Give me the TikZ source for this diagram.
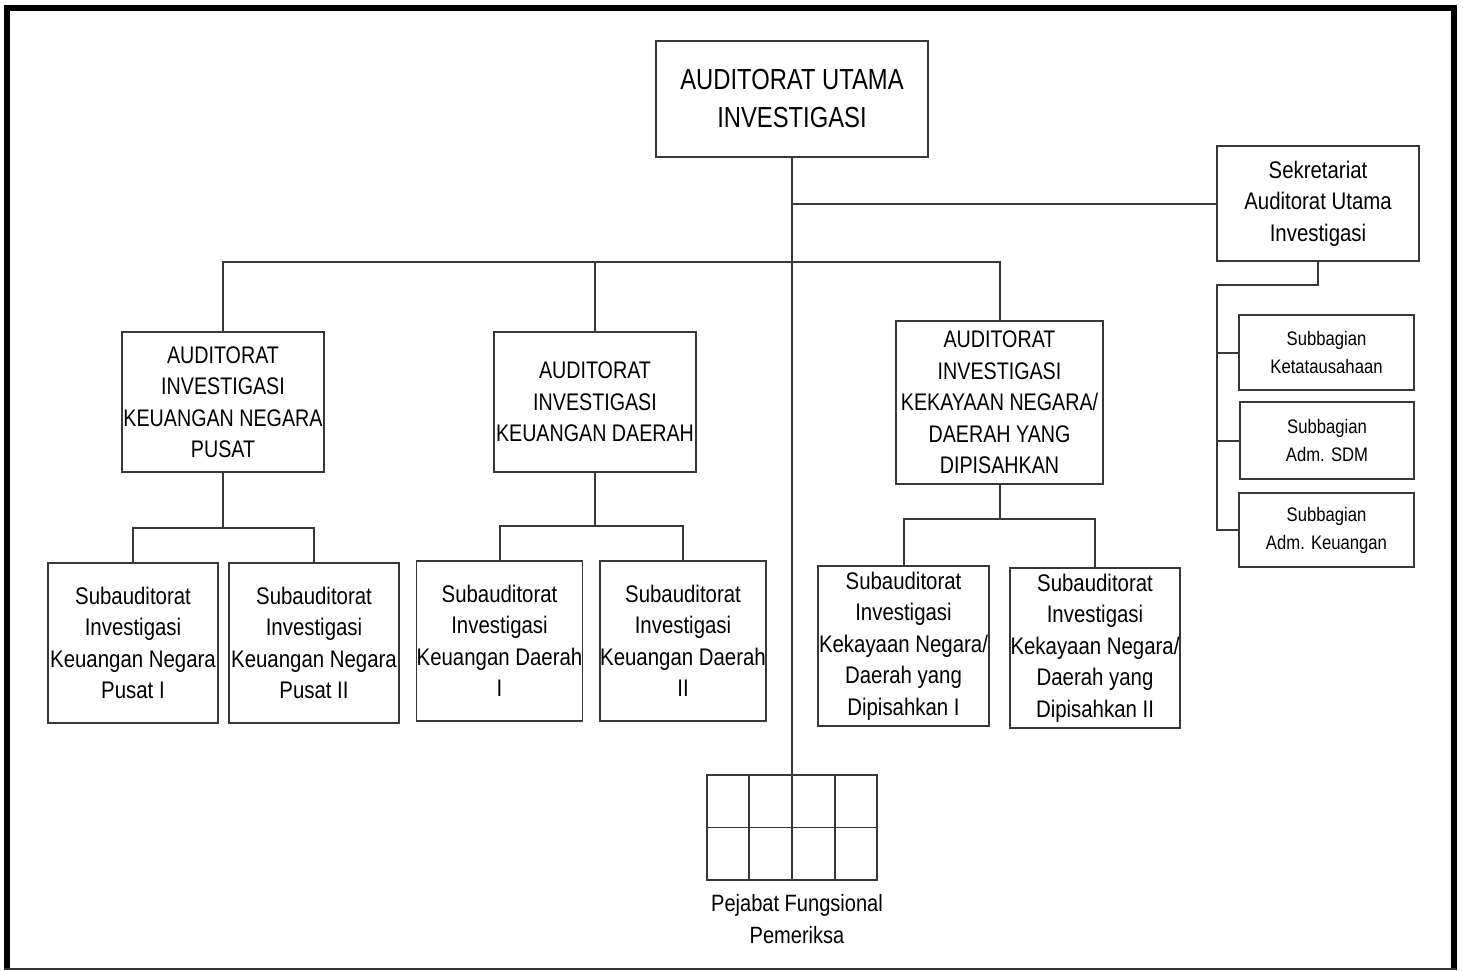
\documentclass[tikz,border=0pt]{standalone}
\usepackage{fontspec}
\setmainfont[FakeStretch=0.85]{Liberation Sans}
\newfontfamily\capsfont[FakeStretch=0.82]{Liberation Sans}
\usetikzlibrary{calc}
\tikzset{
  box/.style={draw=black!78, line width=0.75pt, align=center, inner sep=0pt,
    font=\fontsize{12}{15.75}\selectfont},
  capbox/.style={box, font=\capsfont\fontsize{12}{15.75}\selectfont},
  bigbox/.style={box, font=\capsfont\fontsize{14.5}{19}\selectfont},
  smallbox/.style={box, font=\fontsize{9.8}{14}\selectfont},
  conn/.style={draw=black!78, line width=1pt},
  frameline/.style={draw=black, line width=2.6pt},
}
\begin{document}
\begin{tikzpicture}[x=0.5pt,y=-0.5pt]
\useasboundingbox (0,0) rectangle (1463,970);
% frame
\draw[frameline] (7,970) -- (7,8) -- (1454,8) -- (1454,970);
\draw[draw=black!80, line width=1pt] (4,968.5) -- (1456,968.5);

% boxes
\node[bigbox, minimum width=136pt, minimum height=58pt] (top) at (792,99) {AUDITORAT UTAMA\\INVESTIGASI};
\node[box, minimum width=101pt, minimum height=57.5pt] (sek) at (1318,203.5) {Sekretariat\\Auditorat Utama\\Investigasi};

\node[capbox, minimum width=101pt, minimum height=70pt] (A1) at (223,402) {AUDITORAT\\INVESTIGASI\\KEUANGAN NEGARA\\PUSAT};
\node[capbox, minimum width=101pt, minimum height=70pt] (A2) at (595,402) {AUDITORAT\\INVESTIGASI\\KEUANGAN DAERAH};
\node[capbox, minimum width=103.5pt, minimum height=81.5pt] (A3) at (999.5,402.5) {AUDITORAT\\INVESTIGASI\\KEKAYAAN NEGARA/\\DAERAH YANG\\DIPISAHKAN};

\node[box, minimum width=85pt, minimum height=80pt] (S1) at (133,643) {Subauditorat\\Investigasi\\Keuangan Negara\\Pusat I};
\node[box, minimum width=85pt, minimum height=80pt] (S2) at (314,643) {Subauditorat\\Investigasi\\Keuangan Negara\\Pusat II};
\node[box, minimum width=82.5pt, minimum height=80pt] (S3) at (499.5,641) {Subauditorat\\Investigasi\\Keuangan Daerah\\I};
\node[box, minimum width=82pt, minimum height=80pt] (S4) at (683,641) {Subauditorat\\Investigasi\\Keuangan Daerah\\II};
\node[box, minimum width=85.5pt, minimum height=80pt] (S5) at (903.5,646) {Subauditorat\\Investigasi\\Kekayaan Negara/\\Daerah yang\\Dipisahkan I};
\node[box, minimum width=85pt, minimum height=80pt] (S6) at (1095,648) {Subauditorat\\Investigasi\\Kekayaan Negara/\\Daerah yang\\Dipisahkan II};

\node[smallbox, minimum width=87.5pt, minimum height=37.5pt] (B1) at (1326.5,352.5) {Subbagian\\Ketatausahaan};
\node[smallbox, minimum width=87pt, minimum height=38.5pt] (B2) at (1327,440.5) {Subbagian\\Adm. SDM};
\node[smallbox, minimum width=87.5pt, minimum height=37pt] (B3) at (1326.5,530) {Subbagian\\Adm. Keuangan};

% pejabat fungsional grid
\node[box, minimum width=85pt, minimum height=52.5pt] (pf) at (792,827.5) {};
\draw[conn, line width=0.9pt] (pf.west) -- (pf.east);
\foreach \f in {0.25,0.5,0.75}
  \draw[conn, line width=0.9pt] ($(pf.north west)!\f!(pf.north east)$) -- ($(pf.south west)!\f!(pf.south east)$);
\node[font=\fontsize{11.8}{15.75}\selectfont, align=center, inner sep=0pt] (pflabel) at (797,919) {Pejabat Fungsional\\Pemeriksa};

% connectors
\coordinate (bus) at (0,262);
\coordinate (j1) at (223,528);
\coordinate (j2) at (595,526);
\coordinate (j3) at (999.5,519);
\coordinate (k) at (1217,285);

\draw[conn] (top.south) -- (pf.north);
\draw[conn] (top.south |- sek.west) -- (sek.west);
\draw[conn] (A1.north) |- (A3.north |- bus) -- (A3.north);
\draw[conn] (A2.north) -- (A2.north |- bus);

\draw[conn] (A1.south) -- (j1);
\draw[conn] (S1.north) |- (j1) -| (S2.north);
\draw[conn] (A2.south) -- (j2);
\draw[conn] (S3.north) |- (j2) -| (S4.north);
\draw[conn] (A3.south) -- (j3);
\draw[conn] (S5.north) |- (j3) -| (S6.north);

\draw[conn] (sek.south) |- (k) -- (k |- B3.west) -- (B3.west);
\draw[conn] (k |- B1.west) -- (B1.west);
\draw[conn] (k |- B2.west) -- (B2.west);
\end{tikzpicture}
\end{document}
